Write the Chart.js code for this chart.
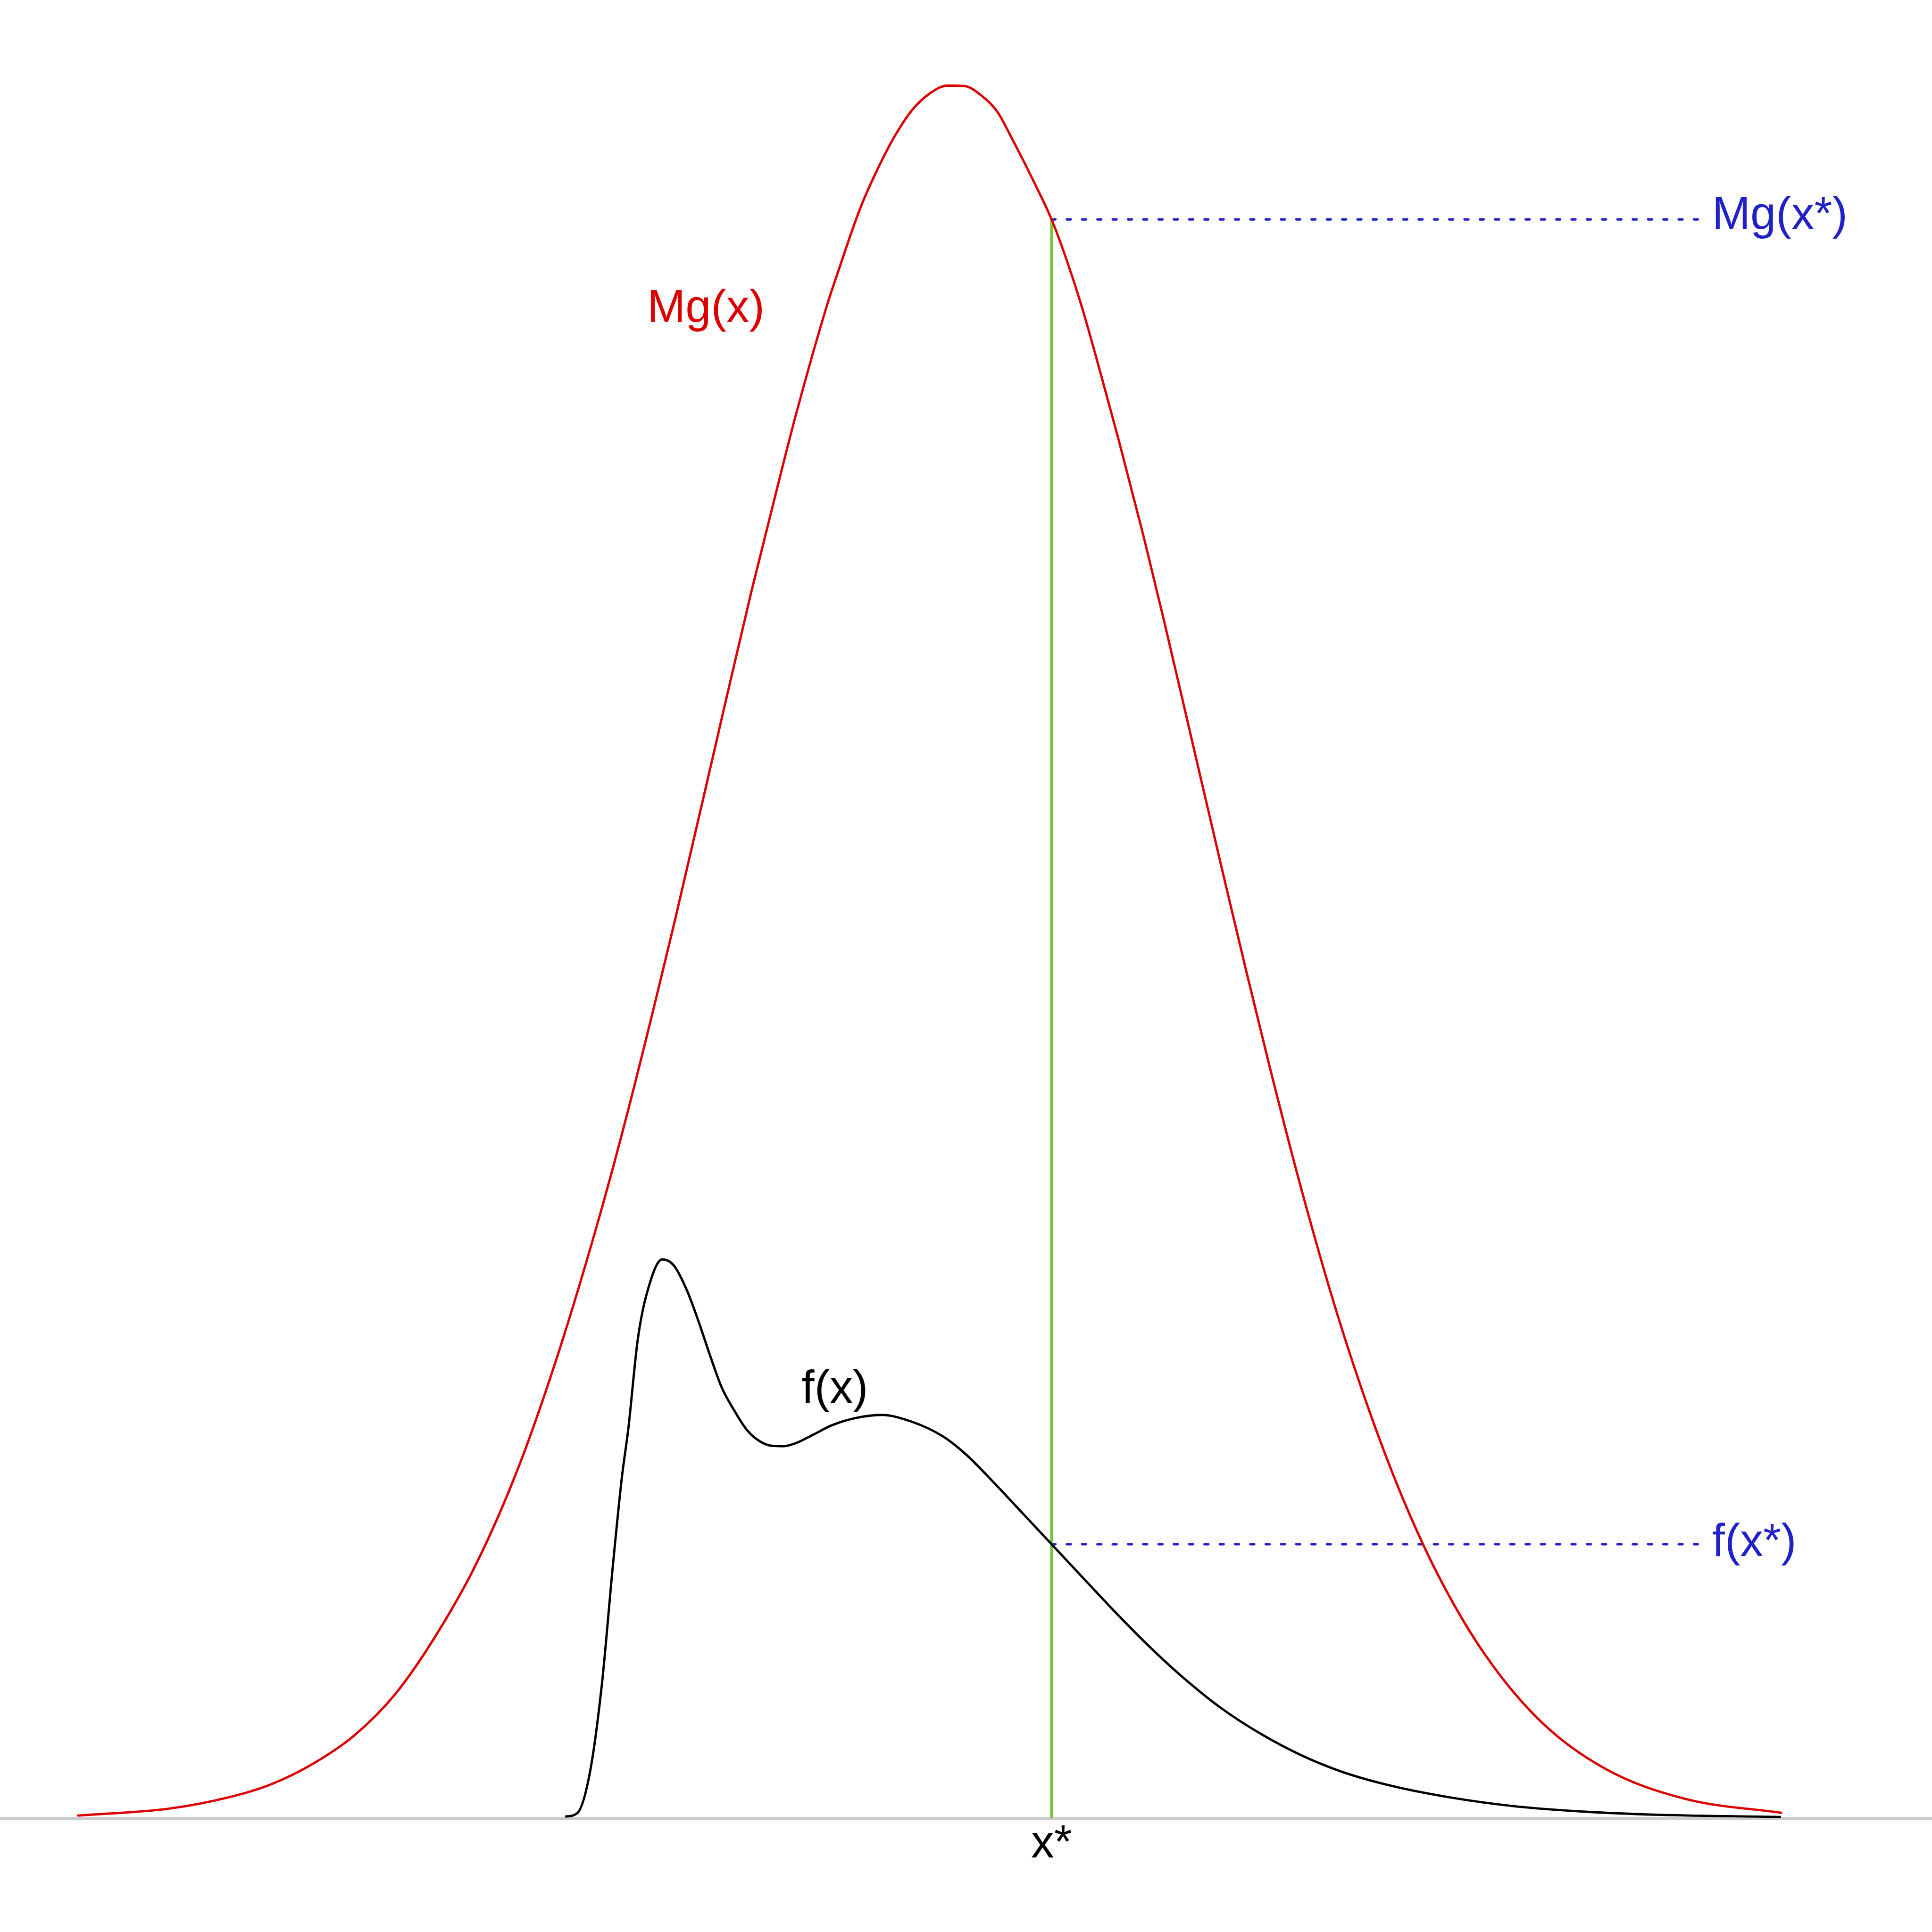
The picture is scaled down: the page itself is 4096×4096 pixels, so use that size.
<!DOCTYPE html>
<html>
<head>
<meta charset="utf-8">
<script src="https://cdn.jsdelivr.net/npm/chart.js@4.4.1/dist/chart.umd.min.js"></script>
<style>
  html, body { margin: 0; padding: 0; background: #fff; }
  canvas { display: block; }
</style>
</head>
<body>
<canvas id="grafico" width="4096" height="4096"></canvas>
<script>
// envelope Mg(x)
const mgX = [-4.000, -3.572, -3.283, -3.090, -2.898, -2.703, -2.511, -2.319, -2.126, -1.932,
  -1.740, -1.547, -1.411, -1.197, -0.981, -0.838, -0.694, -0.622, -0.478, -0.437,
  -0.326, -0.242, -0.160, -0.080, 0.000, 0.084, 0.162, 0.242, 0.320, 0.382,
  0.495, 0.573, 0.646, 0.715, 0.797, 0.888, 1.005, 1.102, 1.238, 1.377,
  1.487, 1.597, 1.748, 1.915, 2.077, 2.232, 2.403, 2.613, 2.872, 3.177,
  3.551, 4.000];
const mgY = [0.0008, 0.0028, 0.0062, 0.0099, 0.0157, 0.0239, 0.0358, 0.0528, 0.0739, 0.1012,
  0.1350, 0.1745, 0.2056, 0.2590, 0.3162, 0.3538, 0.3893, 0.4064, 0.4374, 0.4450,
  0.4646, 0.4762, 0.4858, 0.4931, 0.4977, 0.5000, 0.4999, 0.4972, 0.4923, 0.4853,
  0.4716, 0.4614, 0.4493, 0.4362, 0.4184, 0.3978, 0.3700, 0.3454, 0.3096, 0.2730,
  0.2446, 0.2170, 0.1812, 0.1455, 0.1156, 0.0910, 0.0685, 0.0469, 0.0279, 0.0142,
  0.0056, 0.0016];

// target density f(x)
const fX = [-1.712, -1.655, -1.595, -1.539, -1.489, -1.446, -1.415, -1.370, -1.312, -1.256,
  -1.201, -1.139, -1.085, -1.031, -0.977, -0.912, -0.856, -0.795, -0.741, -0.683,
  -0.627, -0.547, -0.460, -0.348, -0.227, -0.086, 0.063, 0.171, 0.300, 0.445,
  0.573, 0.748, 0.880, 1.020, 1.184, 1.372, 1.558, 1.746, 1.934, 2.168,
  2.448, 2.732, 3.082, 3.434, 4.000];
const fY = [0.0005, 0.0015, 0.0135, 0.0390, 0.0722, 0.0982, 0.1126, 0.1386, 0.1549, 0.1613,
  0.1595, 0.1522, 0.1433, 0.1335, 0.1244, 0.1171, 0.1119, 0.1087, 0.1075, 0.1074,
  0.1083, 0.1107, 0.1134, 0.1155, 0.1164, 0.1145, 0.1102, 0.1050, 0.0970, 0.0875,
  0.0791, 0.0676, 0.0590, 0.0503, 0.0410, 0.0317, 0.0243, 0.0182, 0.0135, 0.0094,
  0.0060, 0.0036, 0.0019, 0.0010, 0.0004];

// the sampled point x* and the guide values
const xStar = 0.573;
const mgStar = 0.4614;
const fStar = 0.0791;
const guideEnd = 3.609;

const pts = (xs, ys) => xs.map((x, i) => ({ x: x, y: ys[i] }));

const FONT = '97.5px "Liberation Sans", Arial, sans-serif';

// texts placed in data coordinates
const textos = [
  { text: 'Mg(x)', x: -1.327, y: 0.4318, color: '#DD0000', align: 'left' },
  { text: 'f(x)', x: -0.601, y: 0.1199, color: '#000000', align: 'left' },
  { text: 'Mg(x*)', x: 3.676, y: 0.4585, color: '#2121C8', align: 'left' },
  { text: 'f(x*)', x: 3.676, y: 0.0757, color: '#2121C8', align: 'left' },
  { text: 'x*', x: xStar, y: -0.0113, color: '#000000', align: 'center' }
];

const eixo = {
  id: 'eixo',
  beforeDatasetsDraw(chart) {
    const { ctx, chartArea, scales } = chart;
    const y0 = scales.y.getPixelForValue(0);
    ctx.save();
    ctx.strokeStyle = '#CCCCCC';
    ctx.lineWidth = 5.85;
    ctx.beginPath();
    ctx.moveTo(chartArea.left, y0);
    ctx.lineTo(chartArea.right, y0);
    ctx.stroke();
    ctx.restore();
  },
  afterDatasetsDraw(chart) {
    const { ctx, scales } = chart;
    ctx.save();
    ctx.font = FONT;
    ctx.textBaseline = 'alphabetic';
    textos.forEach(t => {
      ctx.fillStyle = t.color;
      ctx.textAlign = t.align;
      ctx.fillText(t.text, scales.x.getPixelForValue(t.x), scales.y.getPixelForValue(t.y));
    });
    ctx.restore();
  }
};

new Chart(document.getElementById('grafico'), {
  type: 'line',
  data: {
    datasets: [
      {
        label: 'Mg(x)',
        data: pts(mgX, mgY),
        borderColor: '#DD0000',
        borderWidth: 4.9,
        pointRadius: 0,
        cubicInterpolationMode: 'monotone',
        borderCapStyle: 'round'
      },
      {
        label: 'f(x)',
        data: pts(fX, fY),
        borderColor: '#000000',
        borderWidth: 4.9,
        pointRadius: 0,
        cubicInterpolationMode: 'monotone'
      },
      {
        label: 'x*',
        data: [{ x: xStar, y: 0 }, { x: xStar, y: mgStar }],
        borderColor: '#77C43A',
        borderWidth: 6,
        pointRadius: 0
      },
      {
        label: 'Mg(x*)',
        data: [{ x: xStar, y: mgStar }, { x: guideEnd, y: mgStar }],
        borderColor: '#2121C8',
        borderWidth: 5.2,
        borderDash: [8, 24.43],
        borderCapStyle: 'round',
        pointRadius: 0
      },
      {
        label: 'f(x*)',
        data: [{ x: xStar, y: fStar }, { x: guideEnd, y: fStar }],
        borderColor: '#2121C8',
        borderWidth: 5.2,
        borderDash: [8, 24.43],
        borderCapStyle: 'round',
        pointRadius: 0
      }
    ]
  },
  options: {
    responsive: false,
    animation: false,
    devicePixelRatio: 1,
    layout: { padding: 0 },
    scales: {
      x: { type: 'linear', min: -4.367, max: 4.709, display: false },
      y: { type: 'linear', min: -0.0328, max: 0.5247, display: false }
    },
    plugins: {
      legend: { display: false },
      tooltip: { enabled: false }
    }
  },
  plugins: [eixo]
});
</script>
</body>
</html>
